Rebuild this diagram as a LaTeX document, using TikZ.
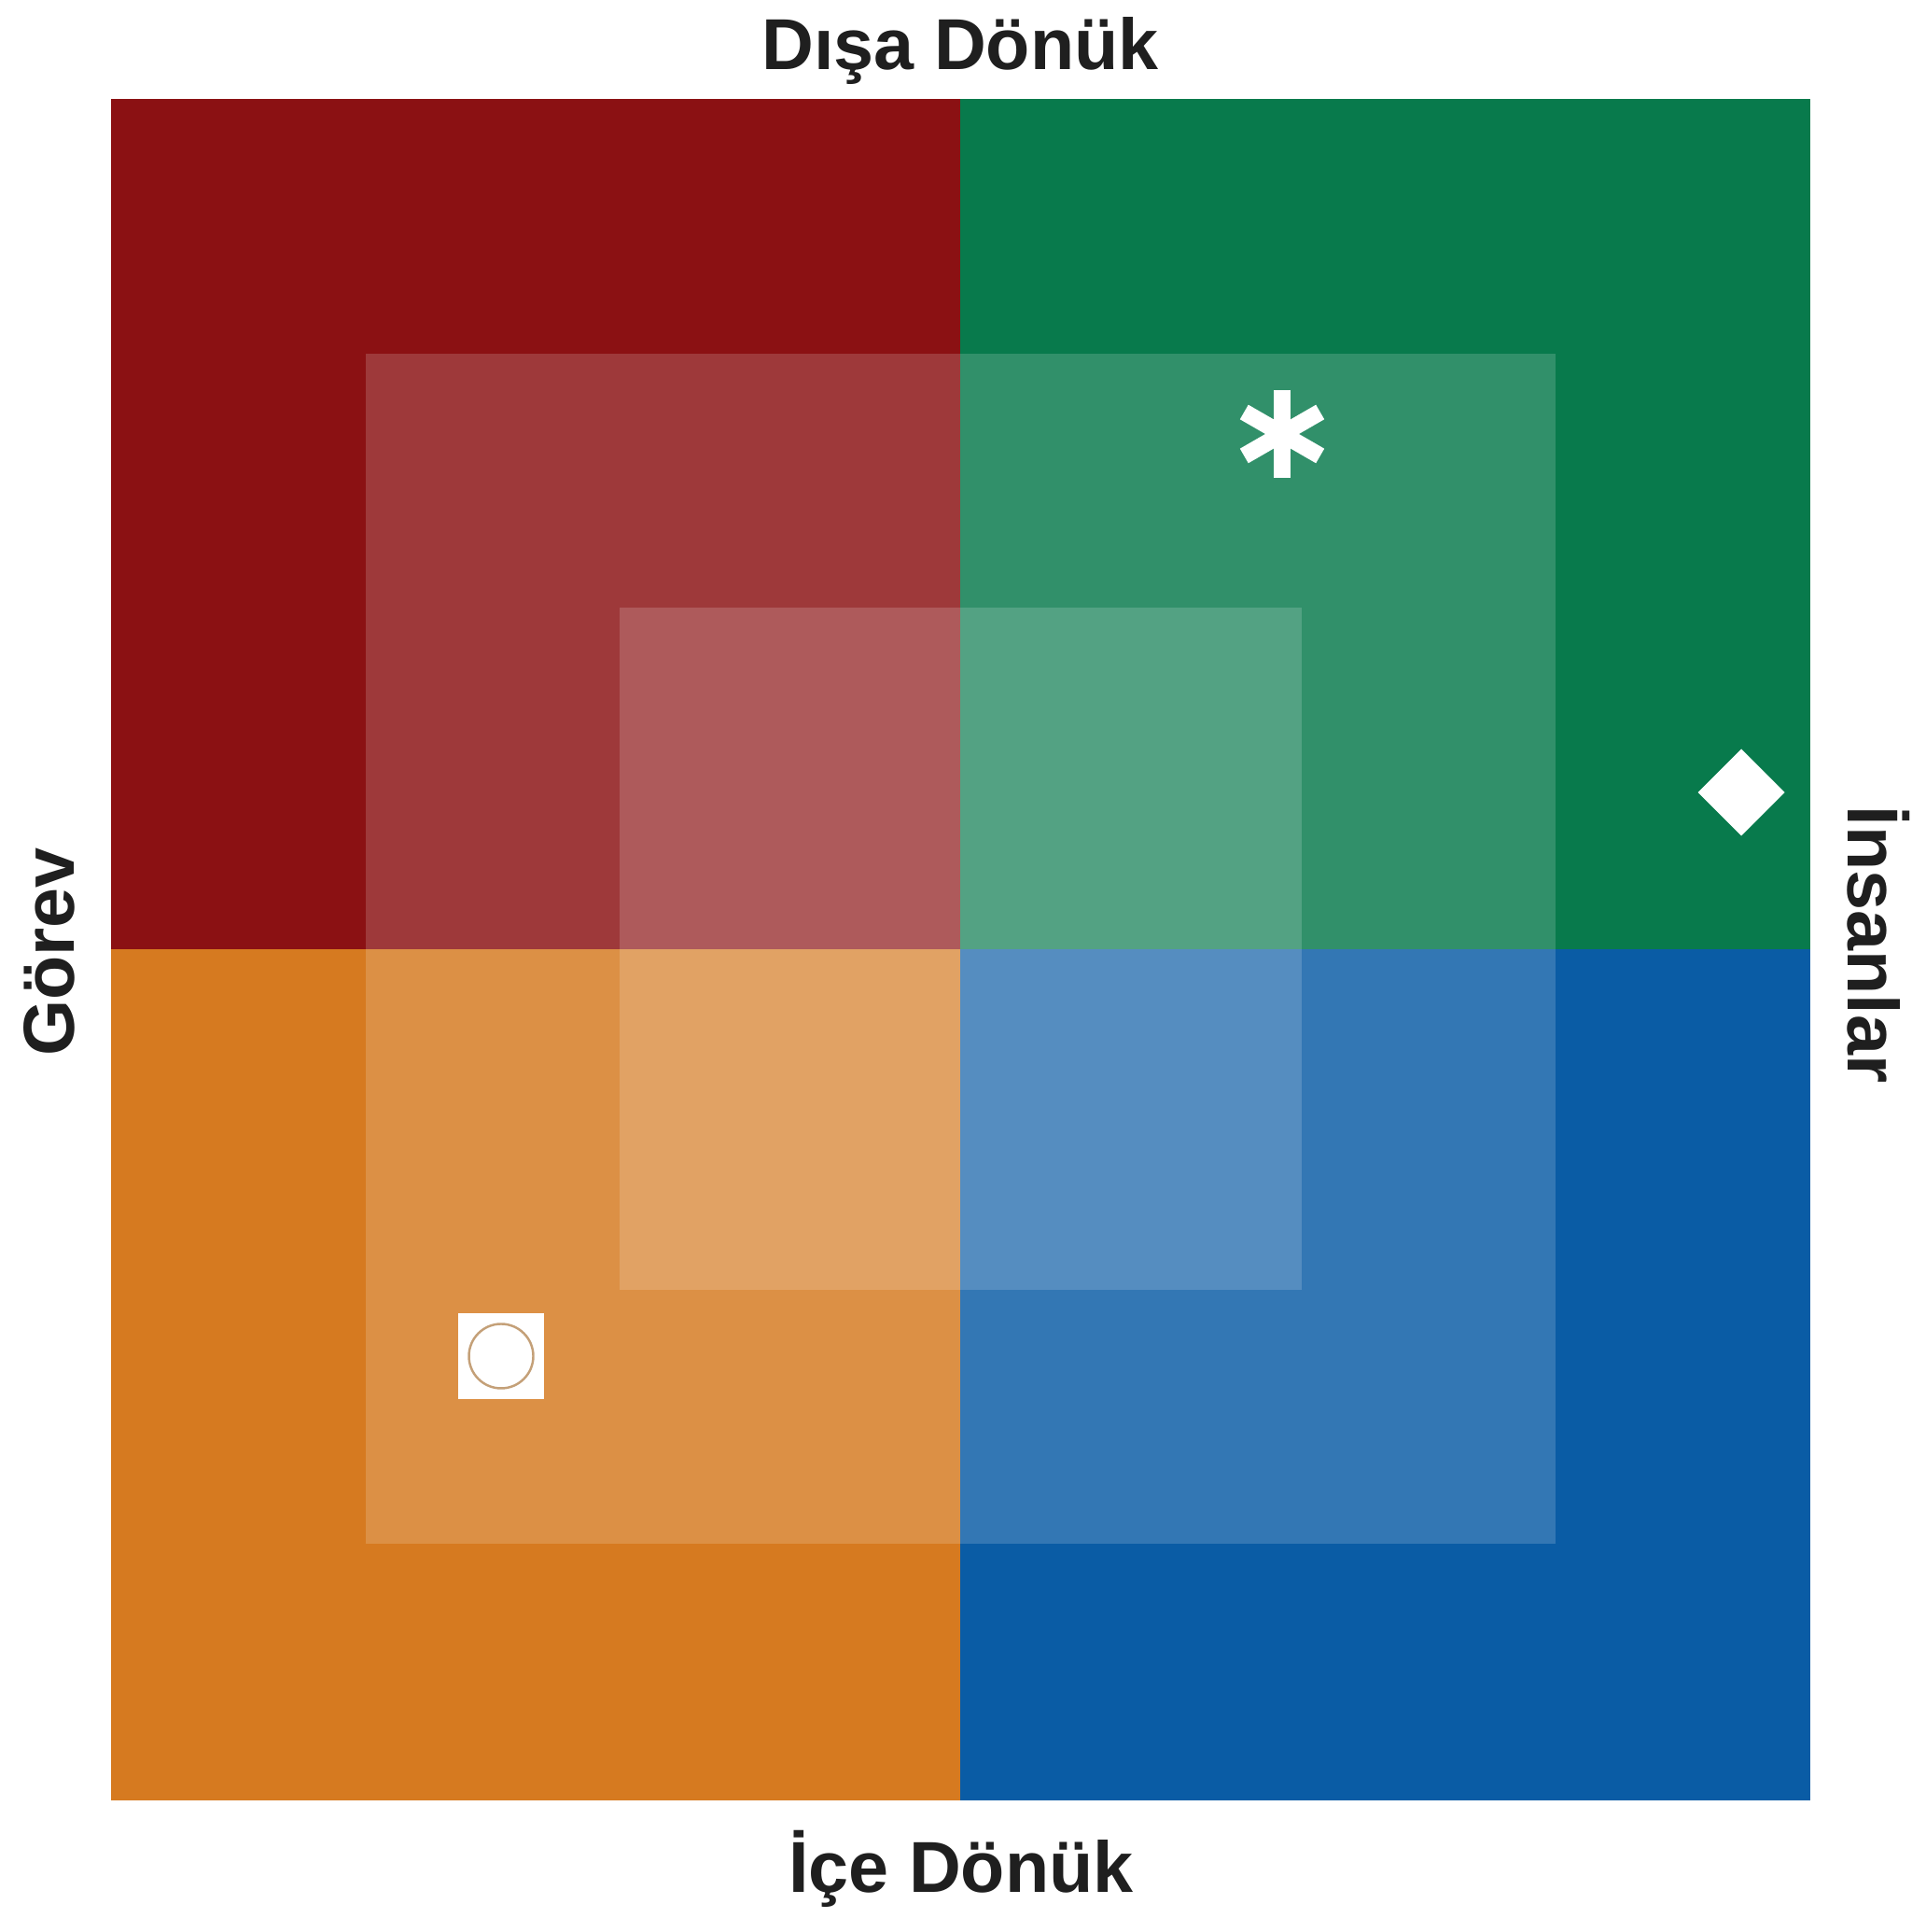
\documentclass[tikz,border=0pt]{standalone}
\usepackage{fontspec}
\setmainfont{Liberation Sans}
\usetikzlibrary{calc}
\definecolor{gorevred}{RGB}{139,17,19}
\definecolor{disagreen}{RGB}{8,122,76}
\definecolor{icorange}{RGB}{214,122,32}
\definecolor{insanblue}{RGB}{10,92,165}
\definecolor{ringtan}{RGB}{196,160,120}
\begin{document}
\begin{tikzpicture}[
    axislabel/.style={font=\bfseries\fontsize{22}{27}\selectfont, text=black!88, inner sep=0pt, anchor=base},
    veil/.style={fill=white, fill opacity=0.17}
  ]
    \useasboundingbox[fill=white] (0,0) rectangle (20.48,20.70);

    \coordinate (O) at (10.29,10.53);
    \coordinate (SW) at (1.19,1.41);
    \coordinate (NE) at (19.40,19.64);

    % four quadrants
    \fill[gorevred]  (SW |- O) rectangle (O |- NE);
    \fill[disagreen] (O) rectangle (NE);
    \fill[icorange]  (SW) rectangle (O);
    \fill[insanblue] (O |- SW) rectangle (NE |- O);

    % nested light squares
    \foreach \h in {6.375,3.655} {
        \fill[veil] ($(O)+(-\h,-\h)$) rectangle ($(O)+(\h,\h)$);
    }

    % markers
    \coordinate (star) at (13.74,16.05);
    \coordinate (dia) at (18.66,12.21);
    \coordinate (box) at (5.37,6.17);

    \foreach \a in {90,30,150} {
        \draw[white, line width=0.18cm] ($(star)+(\a:0.47)$) -- ($(star)+(\a+180:0.47)$);
    }
    \fill[white] ($(dia)+(0.465,0)$) -- ($(dia)+(0,0.465)$) -- ($(dia)+(-0.465,0)$) -- ($(dia)+(0,-0.465)$) -- cycle;
    \fill[white] ($(box)+(-0.46,-0.46)$) rectangle ($(box)+(0.46,0.46)$);
    \draw[ringtan, line width=0.7pt] (box) circle (0.345);

    % axis labels
    \node[axislabel] (top) at (10.29,19.95) {Dışa Dönük};
    \node[axislabel] (bottom) at (10.30,0.42) {İçe Dönük};
    \node[axislabel, rotate=90] (left) at (0.80,10.50) {Görev};
    \node[axislabel, rotate=-90] (right) at (19.80,10.58) {İnsanlar};
\end{tikzpicture}
\end{document}
